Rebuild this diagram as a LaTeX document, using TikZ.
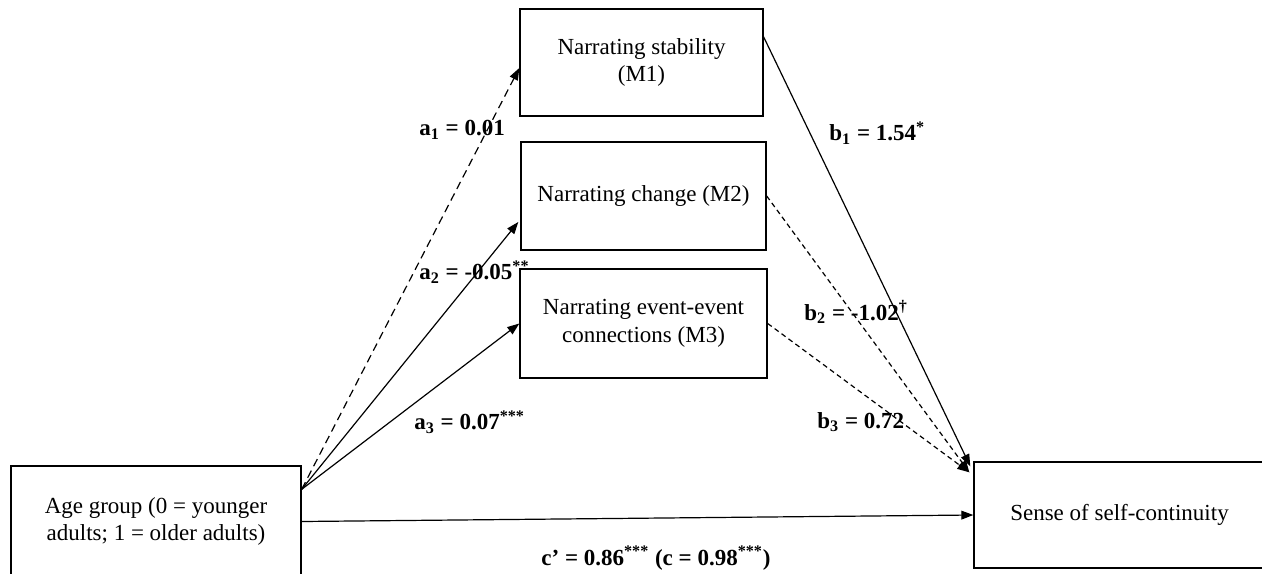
\documentclass[tikz,border=0pt]{standalone}
\usepackage{fontspec}
\setmainfont{Liberation Serif}
\usetikzlibrary{arrows.meta,calc}
\begin{document}
\begin{tikzpicture}[x=0.5pt,y=-0.5pt,
  box/.style={draw,line width=0.7pt,inner sep=0pt,align=center,
    font=\fontsize{11.5pt}{13.8pt}\selectfont},
  lbl/.style={anchor=west,inner sep=0pt,font=\fontsize{11.5pt}{13.8pt}\selectfont\bfseries},
  conn/.style={line width=0.6pt,-{Triangle[length=6pt,width=4.4pt]}},
  longdash/.style={dash pattern=on 4pt off 2.5pt},
  shortdash/.style={dash pattern=on 2.5pt off 1.8pt}]
\useasboundingbox (0,0) rectangle (1262,573);
\node[box,minimum width=121.5pt,minimum height=53.5pt] (m1) at (641.5,62.5) {Narrating stability\\(M1)};
\node[box,minimum width=122.5pt,minimum height=54pt] (m2) at (643.5,196) {Narrating change (M2)};
\node[box,minimum width=123.5pt,minimum height=54.5pt] (m3) at (643.5,323.5) {Narrating event-event\\connections (M3)};
\node[box,minimum width=145pt,minimum height=55.5pt] (age) at (156,521.5) {Age group (0 = younger\\adults; 1 = older adults)};
\node[box,minimum width=145.5pt,minimum height=53pt] (sense) at (1119.5,515) {Sense of self-continuity};
\coordinate (o) at ($(age.north east)+(0,24)$);
\coordinate (t1) at ($(sense.north west)+(-3,5)$);
\coordinate (t2) at ($(sense.north west)+(-4,11)$);
\draw[conn,longdash] (o) -- ($(m1.west)+(0,5.5)$);
\draw[conn] (o) -- ($(m2.west)+(-2,26)$);
\draw[conn] (o) -- (m3.west);
\draw[conn] (age.east) -- (sense.west);
\draw[conn] ($(m1.east)+(0,-25.5)$) -- (t1);
\draw[conn,shortdash] (m2.east) -- (t2);
\draw[conn,shortdash] (m3.east) -- (t2);
\node[lbl] (la1) at (419,130) {a\textsubscript{1} = 0.01};
\node[lbl] (la2) at (419,272) {a\textsubscript{2} = -0.05\textsuperscript{**}};
\node[lbl] (la3) at (414,422) {a\textsubscript{3} = 0.07\textsuperscript{***}};
\node[lbl] (lb1) at (829,133) {b\textsubscript{1} = 1.54\textsuperscript{*}};
\node[lbl] (lb2) at (804,312) {b\textsubscript{2} = -1.02\textsuperscript{†}};
\node[lbl] (lb3) at (817,422) {b\textsubscript{3} = 0.72};
\node[lbl,anchor=center] (lc) at (656,558) {c’ = 0.86\textsuperscript{***} (c = 0.98\textsuperscript{***})};
\end{tikzpicture}
\end{document}
